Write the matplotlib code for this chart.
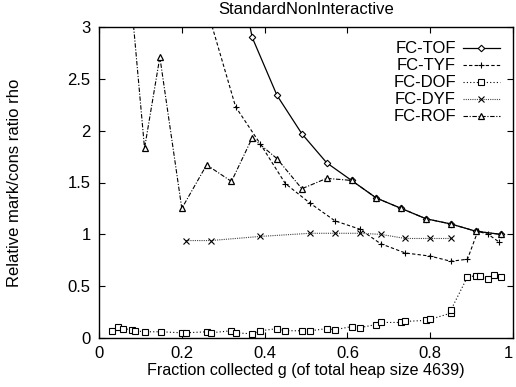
import matplotlib
matplotlib.use("Agg")
import matplotlib.pyplot as plt
from matplotlib.lines import Line2D

plt.rcParams['font.family'] = ['Liberation Sans', 'DejaVu Sans']

title = "StandardNonInteractive"
xlabel = "Fraction collected g (of total heap size 4639)"
ylabel = "Relative mark/cons ratio rho"

tof_x = [0.31, 0.37, 0.43, 0.49, 0.55, 0.61, 0.67, 0.73, 0.79, 0.85, 0.91, 0.97]
tof_y = [4.1, 2.90, 2.34, 1.97, 1.69, 1.52, 1.35, 1.25, 1.15, 1.10, 1.03, 1.00]

tyf_x = [0.21, 0.27, 0.33, 0.39, 0.45, 0.51, 0.57, 0.63, 0.68, 0.74, 0.80, 0.85, 0.89, 0.915, 0.94, 0.965]
tyf_y = [4.5, 3.05, 2.23, 1.87, 1.49, 1.30, 1.13, 1.05, 0.91, 0.82, 0.79, 0.74, 0.76, 1.03, 1.00, 0.93]

dof_x = [0.031, 0.046, 0.058, 0.08, 0.087, 0.11, 0.15, 0.20, 0.21, 0.26, 0.27,
         0.32, 0.33, 0.37, 0.39, 0.43, 0.45, 0.49, 0.51, 0.55, 0.57, 0.61, 0.63,
         0.67, 0.68, 0.73, 0.74, 0.79, 0.80, 0.85, 0.85, 0.89, 0.91, 0.92, 0.94,
         0.955, 0.97]
dof_y = [0.07, 0.11, 0.09, 0.08, 0.07, 0.06, 0.06, 0.05, 0.05, 0.06, 0.05,
         0.07, 0.05, 0.04, 0.07, 0.09, 0.07, 0.07, 0.07, 0.09, 0.08, 0.11, 0.10,
         0.13, 0.15, 0.15, 0.16, 0.17, 0.18, 0.24, 0.27, 0.59, 0.60, 0.60, 0.57,
         0.61, 0.59]

dyf_x = [0.21, 0.27, 0.39, 0.51, 0.57, 0.63, 0.68, 0.74, 0.80, 0.85]
dyf_y = [0.94, 0.94, 0.98, 1.01, 1.01, 1.01, 1.00, 0.96, 0.96, 0.96]

rof_x = [0.05, 0.11, 0.147, 0.20, 0.26, 0.32, 0.37, 0.43, 0.49, 0.55, 0.61,
         0.67, 0.73, 0.79, 0.85, 0.91, 0.97]
rof_y = [4.5, 1.83, 2.71, 1.25, 1.67, 1.51, 1.93, 1.73, 1.44, 1.54, 1.52,
         1.35, 1.25, 1.15, 1.10, 1.03, 1.00]

labels = ['FC-TOF', 'FC-TYF', 'FC-DOF', 'FC-DYF', 'FC-ROF']
xticks = [0, 0.2, 0.4, 0.6, 0.8, 1]
xticklabels = ['0', '0.2', '0.4', '0.6', '0.8', '1']
yticks = [0, 0.5, 1, 1.5, 2, 2.5, 3]
yticklabels = ['0', '0.5', '1', '1.5', '2', '2.5', '3']

fig = plt.figure(figsize=(5.16, 3.87), dpi=100)
ax = fig.add_axes([99 / 516, 1 - 338 / 387, 414 / 516, 311 / 387])

styles = [
    dict(color='black', lw=0.9, ls='-', marker='D', ms=3.3,
         mfc='white', mec='black', mew=0.8),
    dict(color='black', lw=0.8, ls=(0, (3, 2)), marker='+', ms=5, mew=0.8),
    dict(color='black', lw=0.8, ls=(0, (1, 2)), marker='s', ms=4,
         mfc='white', mec='black', mew=0.8),
    dict(color='#444444', lw=0.8, ls=(0, (1, 1)), marker='x', ms=4,
         mec='black', mew=0.8),
    dict(color='black', lw=0.8, ls=(0, (4, 1.5, 1, 1.5)), marker='^', ms=4,
         mfc='white', mec='black', mew=0.9),
]
series = [(tof_x, tof_y), (tyf_x, tyf_y), (dof_x, dof_y),
          (dyf_x, dyf_y), (rof_x, rof_y)]

for (xs, ys), st, lab in zip(series, styles, labels):
    ax.plot(xs, ys, label=lab, **st)

ax.set_xlim(0, 1)
ax.set_ylim(0, 3)
ax.set_xticks(xticks)
ax.set_xticklabels(xticklabels)
ax.set_yticks(yticks)
ax.set_yticklabels(yticklabels)
ax.tick_params(direction='in', top=True, right=True, length=4, width=0.8,
               labelsize=12, pad=6)
# keep the last x label inside the canvas
ax.get_xticklabels()[-1].set_ha('right')
for s in ax.spines.values():
    s.set_linewidth(1.0)

ax.set_title(title, fontsize=12, pad=9)
ax.set_xlabel(xlabel, fontsize=11.6, labelpad=1.5)
ax.set_ylabel(ylabel, fontsize=12, labelpad=33)

# key: right-aligned labels with line samples to their right
row0 = 0.932
step = 17 / 311
for i, (st, lab) in enumerate(zip(styles, labels)):
    y = row0 - i * step
    ax.text(0.862, y, lab, transform=ax.transAxes, ha='right', va='center',
            fontsize=12)
    ax.add_line(Line2D([0.879, 0.968], [y, y], transform=ax.transAxes,
                       clip_on=False, **{k: v for k, v in st.items() if k != 'marker'}))
    ax.add_line(Line2D([0.9235], [y], transform=ax.transAxes, clip_on=False,
                       ls='none', **{k: v for k, v in st.items() if k not in ('ls', 'lw')}))

fig.savefig('out.png', dpi=100)
